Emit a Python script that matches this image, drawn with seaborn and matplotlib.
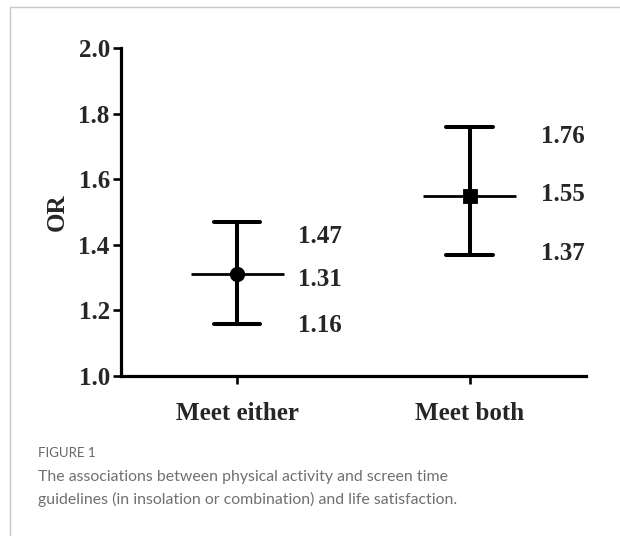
import numpy as np
import pandas as pd
import matplotlib
matplotlib.use("Agg")
import matplotlib.pyplot as plt
from matplotlib.lines import Line2D
import seaborn as sns

groups = ['Meet either', 'Meet both']
or_values = [1.31, 1.55]
ci_low = [1.16, 1.37]
ci_high = [1.47, 1.76]
group_markers = ['o', 's']

# long table: low / estimate / high per group
df = pd.DataFrame({
    'group': np.repeat(groups, 3),
    'value': np.ravel(np.column_stack([ci_low, or_values, ci_high])),
})

sns.set_style('white')
plt.rcParams['font.family'] = ['Liberation Serif', 'DejaVu Serif']
plt.rcParams['font.weight'] = 'bold'

fig = plt.figure(figsize=(6.2, 5.36), dpi=100)
ax = fig.add_axes([0.195, 0.2985, 0.75, 0.612])

sns.pointplot(data=df, x='group', y='value', hue='group', order=groups,
              hue_order=groups, palette=['black', 'black'],
              estimator=np.median, errorbar=lambda v: (v.min(), v.max()),
              capsize=0.2, markers=group_markers, markersize=9,
              linestyle='none', err_kws={'linewidth': 2.9},
              legend=False, ax=ax)

xpos = np.arange(len(groups))
ax.hlines(or_values, xpos - 0.2, xpos + 0.2, color='black', lw=2.0, zorder=1)

# value labels to the right of each interval
label_dx = [0.26, 0.305]
label_dy = [[-0.046, -0.017, -0.006], [-0.031, 0.002, 0.002]]
for i in range(len(groups)):
    vals = [ci_high[i], or_values[i], ci_low[i]]
    for v, dy in zip(vals, label_dy[i]):
        ax.text(xpos[i] + label_dx[i], v + dy, f'{v:.2f}', fontsize=18,
                fontweight='bold', va='center', ha='left')

ax.set_ylim(1.0, 2.0)
ax.set_xlim(-0.5, 1.5)
ax.set_yticks([1.0, 1.2, 1.4, 1.6, 1.8, 2.0])
ax.set_yticklabels([f'{t:.1f}' for t in ax.get_yticks()])
ax.set_xlabel('')
ax.set_ylabel('OR', fontsize=18, fontweight='bold')
ax.yaxis.set_label_coords(-0.112, 0.5)

for side in ['top', 'right']:
    ax.spines[side].set_visible(False)
for side in ['left', 'bottom']:
    ax.spines[side].set_linewidth(2.3)
    ax.spines[side].set_color('black')
ax.tick_params(axis='both', which='both', direction='out', length=6,
               width=1.9, color='black', labelsize=18, left=True, bottom=True)
ax.tick_params(axis='y', pad=2)
ax.tick_params(axis='x', pad=13)
for lab in ax.get_xticklabels() + ax.get_yticklabels():
    lab.set_fontweight('bold')

# caption
fig.text(0.061, 0.155, 'FIGURE 1', fontsize=9.5, color='#666666',
         family=['Lato', 'DejaVu Sans'], fontweight='normal', va='center')
fig.text(0.061, 0.0885, 'The associations between physical activity and screen time\n'
         'guidelines (in insolation or combination) and life satisfaction.',
         fontsize=11.4, color='#707070', family=['Lato', 'DejaVu Sans'],
         fontweight='normal', va='center', linespacing=1.6)

# page frame (top and left edges)
fig.add_artist(Line2D([0.016, 1.0], [0.987, 0.987], color='#c8c8c8', lw=1))
fig.add_artist(Line2D([0.016, 0.016], [0.0, 0.987], color='#c8c8c8', lw=1))

fig.savefig('out.png', dpi=100)
